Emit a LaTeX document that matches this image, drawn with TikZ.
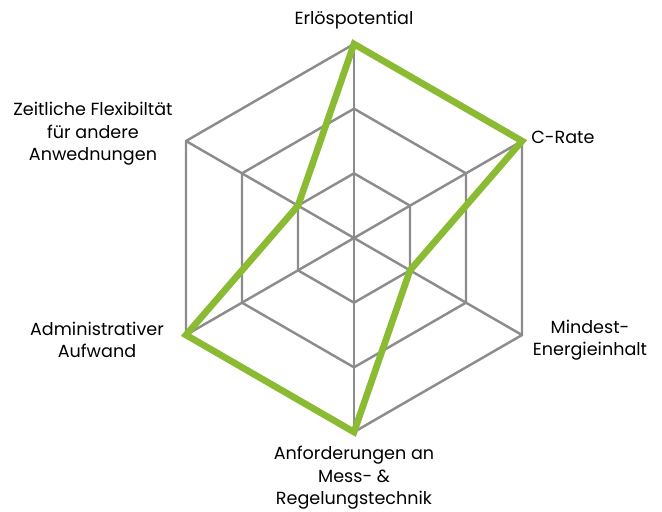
\documentclass[tikz,border=0pt]{standalone}
\usepackage{fontspec}
\setmainfont{Poppins}
\usetikzlibrary{positioning}
\definecolor{gridgrey}{HTML}{8C8C8C}
\definecolor{ratinggreen}{HTML}{8BBA33}
\tikzset{
  gridline/.style={draw=gridgrey, line width=1.4pt},
  ratingline/.style={draw=ratinggreen, line width=3.8pt},
  axislabel/.style={font=\fontsize{10}{12.75}\selectfont, align=center, inner sep=0pt}
}

\begin{document}
\begin{tikzpicture}[x=0.02cm, y=0.02cm]
  \useasboundingbox (-354,-273) rectangle (308,238);
  \coordinate (c) at (0,0);
  % hexagon grid
  \foreach \r in {64.67,129.33,194}{
    \draw[gridline] (90:\r) -- (30:\r) -- (-30:\r) -- (-90:\r) -- (-150:\r) -- (150:\r) -- cycle;
  }
  % axis ends
  \coordinate (erl) at (90:194);
  \coordinate (crate) at (30:194);
  \coordinate (mind) at (-30:194);
  \coordinate (anf) at (-90:194);
  \coordinate (adm) at (-150:194);
  \coordinate (zeit) at (150:194);
  \foreach \e in {erl,crate,mind,anf,adm,zeit}{
    \draw[gridline] (c) -- (\e);
  }
  % rating
  \draw[ratingline] (erl) -- (crate) -- (-30:64.67) -- (anf) -- (adm) -- (150:64.67) -- cycle;
  % labels
  \node[axislabel] (lerl) at (0,218) {Erlöspotential};
  \node[axislabel, anchor=west] (lcrate) at (177,101) {C-Rate};
  \node[axislabel] (lmind) at (236,-102) {Mindest-\\Energieinhalt};
  \node[axislabel] (lanf) at (0,-240) {Anforderungen an\\Mess- \&\\Regelungstechnik};
  \node[axislabel] (ladm) at (-257,-102) {Administrativer\\Aufwand};
  \node[axislabel] (lzeit) at (-261,104) {Zeitliche Flexibiltät\\für andere\\Anwednungen};
\end{tikzpicture}
\end{document}
